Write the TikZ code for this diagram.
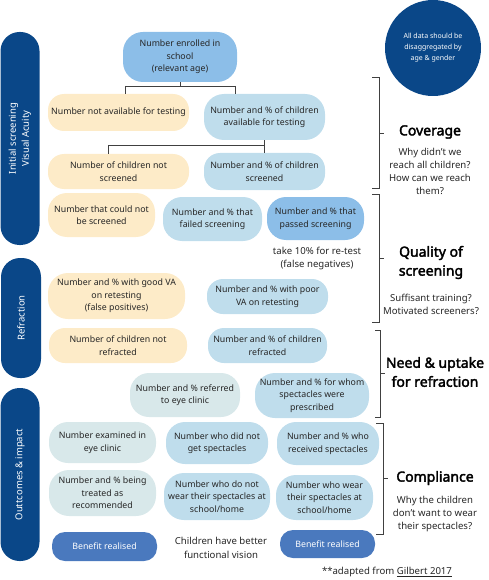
\documentclass[tikz,border=0pt]{standalone}
\usepackage{fontspec}
\setmainfont{Noto Sans}[AutoFakeBold=2.5]
\usetikzlibrary{calc}
\definecolor{navy}{HTML}{0A4788}
\definecolor{midblue}{HTML}{8CBEE8}
\definecolor{ltblue}{HTML}{BFDDEC}
\definecolor{yel}{HTML}{FDEBC8}
\definecolor{teal}{HTML}{D8E8EA}
\definecolor{benef}{HTML}{4A79BE}
\definecolor{textc}{HTML}{262626}
\definecolor{linec}{HTML}{404040}
\tikzset{
  pill/.style={draw=none, rounded corners=16pt, align=center, inner sep=0pt,
    font=\fontsize{8.8}{12.5}\selectfont, text=textc},
  sidebar/.style={draw=none, fill=navy, rounded corners=19pt, rotate=90, align=center,
    text=white, font=\fontsize{9.5}{13}\selectfont, inner sep=0pt},
  conn/.style={draw=linec, line width=0.9pt},
  brk/.style={draw=linec, line width=0.9pt},
  head/.style={font=\fontsize{14}{19}\selectfont\bfseries, text=black, align=center, inner sep=0pt},
  note/.style={font=\fontsize{9.6}{13}\selectfont, text=textc, align=center, inner sep=0pt},
  benefit/.style={pill, fill=benef, text=white, rounded corners=13pt}
}
\begin{document}
\begin{tikzpicture}[x=1pt,y=-1pt]
\useasboundingbox (0,0) rectangle (488,580);

% side bars
\node[sidebar, minimum width=213pt, minimum height=39pt] (bar1) at (20,138.5) {Initial screening\\Visual Acuity};
\node[sidebar, minimum width=120pt, minimum height=40pt] (bar2) at (21,318) {Refraction};
\node[sidebar, minimum width=173pt, minimum height=39pt] (bar3) at (20,474.5) {Outtcomes \& impact};

% circle
\node[circle, fill=navy, minimum size=96pt, inner sep=0pt, align=center, text=white,
  font=\fontsize{7}{11}\selectfont] (circ) at (433,48) {All data should be\\disaggregated by\\age \& gender};

% row 1
\node[pill, fill=midblue, minimum width=114pt, minimum height=50pt, rounded corners=20pt] (n1) at (180,57) {Number enrolled in\\school\\(relevant age)};
% row 2
\node[pill, fill=yel, minimum width=141pt, minimum height=37pt] (n2) at (118.5,112.5) {Number not available for testing};
\node[pill, fill=ltblue, minimum width=121pt, minimum height=46pt, rounded corners=20pt] (n3) at (264.5,117) {Number and \% of children\\available for testing};
% row 3
\node[pill, fill=yel, minimum width=141pt, minimum height=35pt] (n4) at (118.5,171.5) {Number of children not\\screened};
\node[pill, fill=ltblue, minimum width=121pt, minimum height=37pt] (n5) at (264.5,171.5) {Number and \% of children\\screened};
% row 4
\node[pill, fill=yel, minimum width=107pt, minimum height=44pt, rounded corners=19pt] (n6) at (101.5,215) {Number that could not\\be screened};
\node[pill, fill=ltblue, minimum width=99pt, minimum height=44pt, rounded corners=19pt] (n7) at (212.5,219) {Number and \% that\\failed screening};
\node[pill, fill=midblue, minimum width=97pt, minimum height=43pt, rounded corners=19pt] (n8) at (315.5,218.5) {Number and \% that\\passed screening};
\node[note] (retest) at (317,258.5) {take 10\% for re-test\\(false negatives)};
% row 5
\node[pill, fill=yel, minimum width=137pt, minimum height=46pt, rounded corners=20pt] (n9) at (116.5,296) {Number and \% with good VA\\on retesting\\(false positives)};
\node[pill, fill=ltblue, minimum width=121pt, minimum height=35pt] (n10) at (267.5,296.5) {Number and \% with poor\\VA on retesting};
% row 6
\node[pill, fill=yel, minimum width=138pt, minimum height=35pt] (n11) at (118,345.5) {Number of children not\\refracted};
\node[pill, fill=ltblue, minimum width=119pt, minimum height=35pt] (n12) at (267.5,345.5) {Number and \% of children\\refracted};
% row 7
\node[pill, fill=teal, minimum width=110pt, minimum height=44pt, rounded corners=19pt] (n13) at (185,395) {Number and \% referred\\to eye clinic};
\node[pill, fill=ltblue, minimum width=114pt, minimum height=45pt, rounded corners=20pt] (n14) at (312,395.5) {Number and \% for whom\\spectacles were\\prescribed};
% row 8
\node[pill, fill=teal, minimum width=107pt, minimum height=41pt, rounded corners=19pt] (n15) at (102.5,442.5) {Number examined in\\eye clinic};
\node[pill, fill=ltblue, minimum width=102pt, minimum height=42pt, rounded corners=19pt] (n16) at (217,443) {Number who did not\\get spectacles};
\node[pill, fill=ltblue, minimum width=102pt, minimum height=43pt, rounded corners=19pt] (n17) at (328,443.5) {Number and \% who\\received spectacles};
% row 9
\node[pill, fill=teal, minimum width=107pt, minimum height=46pt, rounded corners=20pt] (n18) at (102.5,493) {Number and \% being\\treated as\\recommended};
\node[pill, fill=ltblue, minimum width=106pt, minimum height=47pt, rounded corners=20pt] (n19) at (217,496.5) {Number who do not\\wear their spectacles at\\school/home};
\node[pill, fill=ltblue, minimum width=97pt, minimum height=45pt, rounded corners=20pt] (n20) at (324.5,497.5) {Number who wear\\their spectacles at\\school/home};
% row 10
\node[benefit, minimum width=105pt, minimum height=29pt] (b1) at (104.5,546.5) {Benefit realised};
\node[note, font=\fontsize{9.6}{14}\selectfont] (better) at (221,548) {Children have better\\functional vision};
\node[benefit, minimum width=95pt, minimum height=28pt] (b2) at (327.5,544) {Benefit realised};
\node[note] (credit) at (387,572) {**adapted from \underline{Gilbert 2017}};

% connectors
\coordinate (j1) at (180,86);
\coordinate (x2) at (125,0);
\coordinate (x3) at (235,0);
\draw[conn] (n1.south) -- (j1);
\draw[conn] (j1 -| x2) -- (j1 -| x3);
\draw[conn] (j1 -| x2) -- (n2.north -| x2);
\draw[conn] (j1 -| x3) -- (n3.north -| x3);
\coordinate (j2) at (108,145);
\draw[conn] (n3.south) -- (n5.north);
\draw[conn] (n3.south |- j2) -- (j2);
\draw[conn] (j2) -- (n4.north -| j2);

% brackets
\draw[brk] (372,77) -- (379,77) -- (379,188) -- (372,188);
\draw[brk] (379,133) -- (384,133);
\draw[brk] (372,194) -- (379,194) -- (379,322) -- (372,322);
\draw[brk] (379,258) -- (384,258);
\draw[brk] (375,330) -- (380,330) -- (380,417) -- (375,417);
\draw[brk] (380,373) -- (385,373);
\draw[brk] (376,423) -- (383,423) -- (383,534) -- (376,534);
\draw[brk] (383,478) -- (388,478);

% right texts
\node[head] (cov) at (430,132) {Coverage};
\node[note] (covq) at (430,171.5) {Why didn’t we\\reach all children?\\How can we reach\\them?};
\node[head] (qual) at (431,262.5) {Quality of\\screening};
\node[note] (qualq) at (431,304.5) {Suffisant training?\\Motivated screeners?};
\node[head] (need) at (435,372) {Need \& uptake\\for refraction};
\node[head] (comp) at (435,478) {Compliance};
\node[note] (compq) at (435,513.5) {Why the children\\don’t want to wear\\their spectacles?};
\end{tikzpicture}
\end{document}
